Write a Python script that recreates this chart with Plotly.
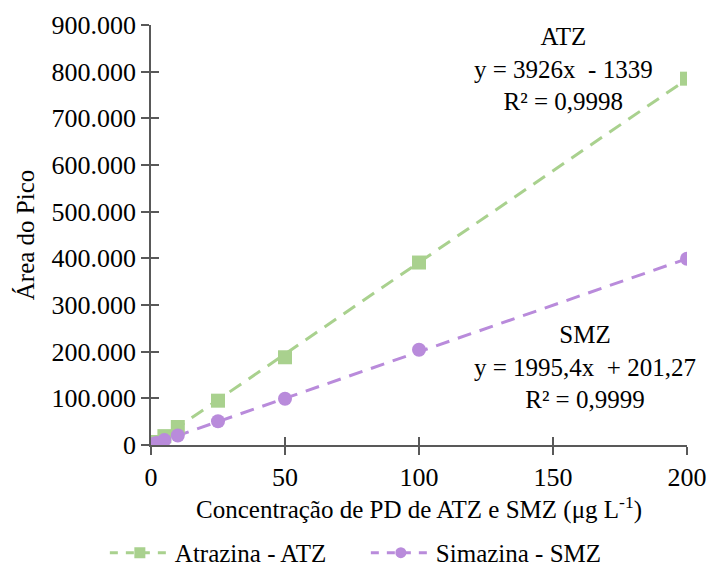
import plotly.graph_objects as go

# Calibration data: peak area vs. concentration
conc = [1, 2, 5, 10, 25, 50, 100, 200]
atz_area = [2600, 6500, 19000, 38600, 95000, 188000, 391000, 785000]
smz_area = [2200, 4200, 10500, 20500, 51000, 99000, 204000, 399000]

# Linear fits reported on the chart
atz_slope, atz_intercept, atz_r2 = 3926, -1339, "0,9998"
smz_slope, smz_intercept, smz_r2 = 1995.4, 201.27, "0,9999"

y_ticks = [0, 100000, 200000, 300000, 400000, 500000, 600000, 700000, 800000, 900000]
y_tick_text = ["0", "100.000", "200.000", "300.000", "400.000", "500.000",
               "600.000", "700.000", "800.000", "900.000"]
x_ticks = [0, 50, 100, 150, 200]

GREEN = "#A9D18E"
PURPLE = "#B98BDB"
FONT = "Liberation Serif"
AXIS = "#595959"

x_fit = [min(conc), max(conc)]
atz_fit = [atz_slope * v + atz_intercept for v in x_fit]
smz_fit = [smz_slope * v + smz_intercept for v in x_fit]

fig = go.Figure()

# Trendlines
fig.add_trace(go.Scatter(x=x_fit, y=atz_fit, mode="lines",
                         line=dict(color=GREEN, width=3, dash="14px,9px"),
                         showlegend=False, hoverinfo="skip"))
fig.add_trace(go.Scatter(x=x_fit, y=smz_fit, mode="lines",
                         line=dict(color=PURPLE, width=3, dash="14px,9px"),
                         showlegend=False, hoverinfo="skip"))

# Measured points
fig.add_trace(go.Scatter(x=conc, y=atz_area, mode="markers",
                         marker=dict(symbol="square", size=14, color=GREEN),
                         showlegend=False))
fig.add_trace(go.Scatter(x=conc, y=smz_area, mode="markers",
                         marker=dict(symbol="circle", size=14, color=PURPLE),
                         showlegend=False))

# Legend entries (line + marker symbol)
fig.add_trace(go.Scatter(x=[None], y=[None], mode="lines+markers", name="Atrazina - ATZ",
                         line=dict(color=GREEN, width=3, dash="8px,8px"),
                         marker=dict(symbol="square", size=11, color=GREEN)))
fig.add_trace(go.Scatter(x=[None], y=[None], mode="lines+markers", name="Simazina - SMZ",
                         line=dict(color=PURPLE, width=3, dash="8px,8px"),
                         marker=dict(symbol="circle", size=11, color=PURPLE)))

# Overlay axes carrying the inner half of the crossing tick marks
fig.add_trace(go.Scatter(x=[None], y=[None], xaxis="x2", yaxis="y2",
                         showlegend=False, hoverinfo="skip"))

fig.update_layout(
    width=709, height=570,
    margin=dict(l=151, r=22, t=25, b=125, autoexpand=False),
    paper_bgcolor="white", plot_bgcolor="white",
    font=dict(family=FONT, size=25, color="black"),
    xaxis=dict(range=[0, 200], tickvals=x_ticks, showgrid=False, zeroline=False,
               automargin=True,
               showline=True, linecolor=AXIS, linewidth=1.5,
               ticks="outside", ticklen=8, tickcolor=AXIS, tickwidth=1.5,
               tickfont=dict(size=26),
               title=dict(text="Concentração de PD de ATZ e SMZ (μg L<sup>-1</sup>)",
                          font=dict(size=25), standoff=6)),
    yaxis=dict(range=[0, 900000], tickvals=y_ticks, ticktext=y_tick_text,
               showgrid=False, zeroline=False, automargin=True,
               showline=True, linecolor=AXIS, linewidth=1.5,
               ticks="outside", ticklen=8, tickcolor=AXIS, tickwidth=1.5,
               tickfont=dict(size=26),
               title=dict(text="Área do Pico", font=dict(size=25), standoff=10)),
    xaxis2=dict(overlaying="x", range=[0, 200], tickvals=x_ticks, showticklabels=False,
                showgrid=False, zeroline=False, showline=False,
                ticks="inside", ticklen=8, tickcolor=AXIS, tickwidth=1.5, side="bottom"),
    yaxis2=dict(overlaying="y", range=[0, 900000], tickvals=y_ticks, showticklabels=False,
                showgrid=False, zeroline=False, showline=False,
                ticks="inside", ticklen=8, tickcolor=AXIS, tickwidth=1.5, side="left"),
    legend=dict(orientation="h", x=0.516, xanchor="center", xref="container",
                y=0.03, yanchor="middle", yref="container",
                font=dict(size=25), itemwidth=60, entrywidth=186,
                bgcolor="rgba(0,0,0,0)"),
    showlegend=True,
)

def fmt(v):
    return f"{v:g}".replace(".", ",")

ann_font = dict(family=FONT, size=25, color="black")
atz_text = (f"ATZ<br>y = {fmt(atz_slope)}x  - {fmt(abs(atz_intercept))}"
            f"<br>R² = {atz_r2}")
smz_text = (f"SMZ<br>y = {fmt(smz_slope)}x  + {fmt(smz_intercept)}"
            f"<br>R² = {smz_r2}")
fig.add_annotation(text=atz_text, x=0.77, y=1.01, xref="paper", yref="paper",
                   xanchor="center", yanchor="top", showarrow=False,
                   font=ann_font, align="center")
fig.add_annotation(text=smz_text, x=0.81, y=0.30, xref="paper", yref="paper",
                   xanchor="center", yanchor="top", showarrow=False,
                   font=ann_font, align="center")

fig.write_html("out.html")
